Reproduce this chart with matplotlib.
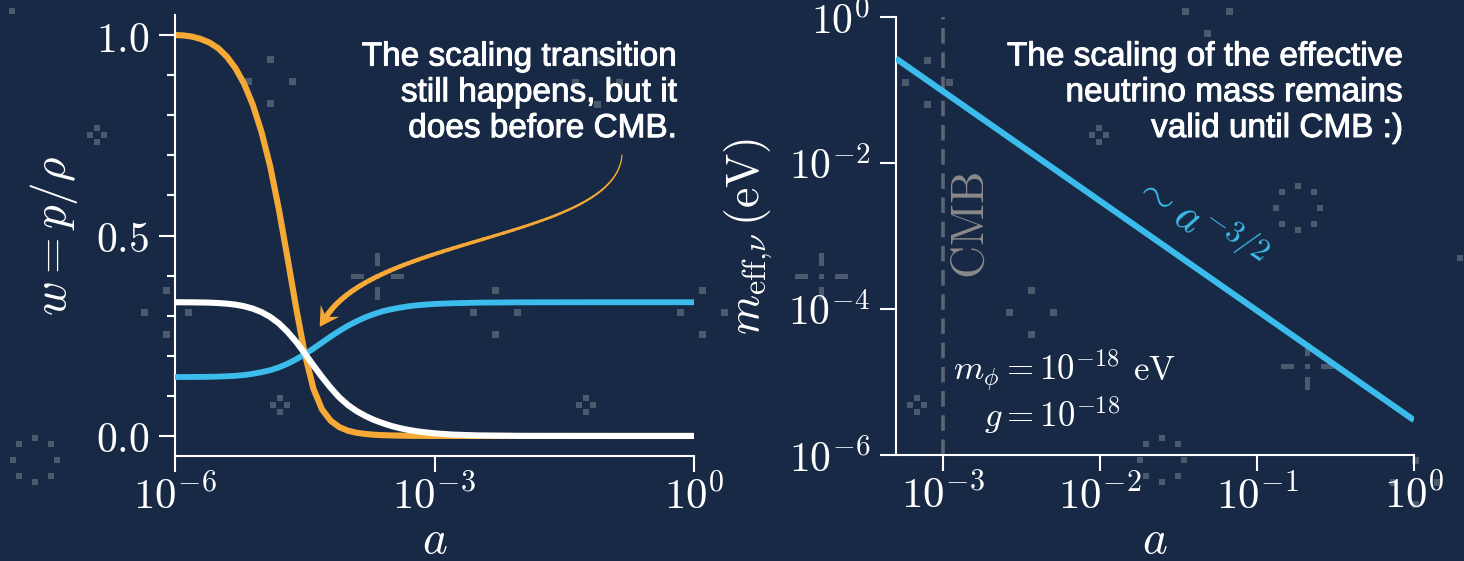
import numpy as np
import matplotlib
matplotlib.use('Agg')
import matplotlib.pyplot as plt
import matplotlib.patheffects as pe
import matplotlib.transforms as mtransforms
from matplotlib.collections import LineCollection
from matplotlib.patches import Polygon, Rectangle
from matplotlib.ticker import FixedLocator, FuncFormatter, MultipleLocator, NullLocator

plt.rcParams['mathtext.fontset'] = 'cm'

W_PX, H_PX, DPI = 1464, 561, 100

BG     = '#172945'
ORANGE = '#f7a936'
BLUE   = '#3cbcec'
WHITE  = '#ffffff'
DOTS   = '#4c5a6e'
GREY   = '#8a8a8a'
DASH   = '#5d6574'

# ── equation of state w = p/rho, sampled on log10(a) ─────────────────
log_a = [-6.0, -5.9, -5.8, -5.7, -5.6, -5.5, -5.4, -5.3, -5.2, -5.1,
         -5.0, -4.9, -4.8, -4.7, -4.6, -4.5, -4.4, -4.3, -4.2, -4.1,
         -4.0, -3.9, -3.8, -3.7, -3.6, -3.5, -3.4, -3.3, -3.2, -3.1,
         -3.0, -2.8, -2.5, -2.0, -1.0, 0.0]
w_scalar = [1.000, 0.999, 0.996, 0.990, 0.981, 0.967, 0.946, 0.917, 0.878, 0.826,
            0.758, 0.673, 0.566, 0.445, 0.320, 0.205, 0.118, 0.066, 0.038, 0.022,
            0.013, 0.008, 0.005, 0.003, 0.002, 0.0013, 0.0008, 0.0005, 0.0003, 0.0002,
            0.0001, 0.0, 0.0, 0.0, 0.0, 0.0]
w_nu     = [0.3335, 0.3334, 0.3333, 0.3330, 0.3325, 0.3315, 0.3300, 0.3275, 0.3235, 0.3175,
            0.3090, 0.2970, 0.2810, 0.2600, 0.2350, 0.2060, 0.1760, 0.1470, 0.1200, 0.0960,
            0.0770, 0.0620, 0.0500, 0.0400, 0.0320, 0.0250, 0.0195, 0.0150, 0.0115, 0.0088,
            0.0065, 0.0035, 0.0013, 0.0002, 0.0, 0.0]
w_mix    = [0.1470, 0.1470, 0.1471, 0.1473, 0.1476, 0.1481, 0.1489, 0.1500, 0.1520, 0.1550,
            0.1590, 0.1640, 0.1710, 0.1800, 0.1910, 0.2040, 0.2180, 0.2330, 0.2480, 0.2620,
            0.2750, 0.2860, 0.2960, 0.3040, 0.3110, 0.3160, 0.3200, 0.3235, 0.3260, 0.3278,
            0.3292, 0.3310, 0.3325, 0.3333, 0.3335, 0.3335]

# ── effective neutrino mass ──────────────────────────────────────────
a_mass = [5.0e-4, 1.0]
m_eff  = [0.27, 3.0e-6]
A_CMB  = 1e-3

left_xticks  = [1e-6, 1e-3, 1e0]
left_yticks  = [0.0, 0.5, 1.0]
right_xticks = [1e-3, 1e-2, 1e-1, 1e0]
right_yticks = [1e-6, 1e-4, 1e-2, 1e0]

note_left  = 'The scaling transition\nstill happens, but it\ndoes before CMB.'
note_right = 'The scaling of the effective\nneutrino mass remains\nvalid until CMB :)'

# background pixel-star decoration: (kind, x, y) in image pixels
MOTIFS = [
    ('dot', 12, 11), ('dot', 1460, 258),
    ('sparse', 270, 81), ('sparse', 166, 312), ('sparse', 495, 312),
    ('sparse', 597, 82), ('sparse', 702, 312), ('sparse', 927, 82),
    ('sparse', 1031, 312), ('sparse', 1207, 11), ('sparse', 1415, 482),
    ('tight', 97, 135), ('tight', 280, 405), ('tight', 586, 405),
    ('tight', 917, 405), ('tight', 1099, 135),
    ('plus', 377, 276), ('plus', 821, 276), ('plus', 1307, 366),
    ('ring', 35, 460), ('ring', 1298, 208), ('ring', 1162, 460),
]


def pow10(v, _):
    return r'$10^{%d}$' % int(round(np.log10(v)))


def lin1(v, _):
    return r'$%.1f$' % v


fig = plt.figure(figsize=(W_PX / DPI, H_PX / DPI), dpi=DPI, facecolor=BG)
px = mtransforms.Affine2D().scale(1, -1).translate(0, H_PX)


def square(cx, cy, w, h=None):
    h = w if h is None else h
    fig.add_artist(Rectangle((cx - w / 2, cy - h / 2), w, h, transform=px,
                             color=DOTS, lw=0, zorder=-5))


for kind, cx, cy in MOTIFS:
    if kind == 'dot':
        square(cx, cy, 6)
    elif kind == 'tight':
        for dx, dy in [(0, -7), (-7, 0), (7, 0), (0, 7)]:
            square(cx + dx, cy + dy, 6)
    elif kind == 'sparse':
        for dx, dy in [(0, -22), (-22, 0), (22, 0), (0, 22)]:
            square(cx + dx, cy + dy, 7)
    elif kind == 'plus':
        square(cx, cy, 5)
        square(cx, cy - 17, 5, 13)
        square(cx, cy + 17, 5, 13)
        square(cx - 20, cy, 13, 5)
        square(cx + 20, cy, 13, 5)
    elif kind == 'ring':
        for k in range(8):
            t = k * np.pi / 4
            square(cx + 22 * np.cos(t), cy + 22 * np.sin(t), 6)

ax1 = fig.add_axes([175 / W_PX, 1 - 456 / H_PX, 519 / W_PX, 441 / H_PX])
ax2 = fig.add_axes([896 / W_PX, 1 - 455 / H_PX, 518 / W_PX, 438 / H_PX])

# slightly heavier sans for the notes
note_kw = dict(ha='right', va='baseline', multialignment='right', color=WHITE,
               fontsize=24, family='Liberation Sans',
               path_effects=[pe.withStroke(linewidth=0.7, foreground=WHITE)])


def style(ax):
    ax.set_facecolor('none')
    for s in ('top', 'right'):
        ax.spines[s].set_visible(False)
    for s in ('left', 'bottom'):
        ax.spines[s].set_color(WHITE)
        ax.spines[s].set_linewidth(1.5)
    ax.tick_params(which='both', direction='out', color=WHITE,
                   labelcolor=WHITE, width=1.5)
    ax.tick_params(which='major', length=11.5)
    ax.tick_params(which='minor', length=5.5)
    ax.tick_params(axis='x', labelsize=31, pad=3)
    ax.tick_params(axis='y', labelsize=30, pad=7)


def bottom_label(ax, y):
    ax.set_xlabel(r'$a$', fontsize=34, color=WHITE)
    ax.xaxis.label.set_verticalalignment('baseline')
    ax.xaxis.set_label_coords(0.5, y)


# ── left: w(a) ───────────────────────────────────────────────────────
a_grid = 10.0 ** np.array(log_a)
style(ax1)
ax1.set_xscale('log')
ax1.plot(a_grid, w_scalar, color=ORANGE, lw=4.4, solid_capstyle='butt', zorder=2)
ax1.plot(a_grid, w_mix, color=BLUE, lw=4.2, solid_capstyle='butt', zorder=3)
ax1.plot(a_grid, w_nu, color=WHITE, lw=4.4, solid_capstyle='butt', zorder=4)
ax1.set_xlim(1e-6, 1e0)
ax1.set_ylim(-0.05, 1.05)
ax1.xaxis.set_major_locator(FixedLocator(left_xticks))
ax1.xaxis.set_minor_locator(NullLocator())
ax1.xaxis.set_major_formatter(FuncFormatter(pow10))
ax1.yaxis.set_major_locator(FixedLocator(left_yticks))
ax1.yaxis.set_minor_locator(MultipleLocator(0.1))
ax1.yaxis.set_major_formatter(FuncFormatter(lin1))
ax1.set_ylabel(r'$w = p/\rho$', fontsize=34, color=WHITE)
ax1.yaxis.set_label_coords(-0.183, 0.5)
bottom_label(ax1, -0.220)
# multi-line notes are pinned at the baseline of their last line
ax1.text(0.967, 0.723, note_left, transform=ax1.transAxes, **note_kw)

# ── right: m_eff(a) ──────────────────────────────────────────────────
style(ax2)
ax2.set_xscale('log')
ax2.set_yscale('log')
ax2.set_xlim(5e-4, 1e0)
ax2.set_ylim(1e-6, 1e0)
ax2.axvline(A_CMB, color=DASH, lw=2.6, dashes=(4.3, 2.4), zorder=1)
ax2.plot(a_mass, m_eff, color=BLUE, lw=4.4, solid_capstyle='butt', zorder=3)
ax2.xaxis.set_major_locator(FixedLocator(right_xticks))
ax2.xaxis.set_minor_locator(NullLocator())
ax2.xaxis.set_major_formatter(FuncFormatter(pow10))
ax2.yaxis.set_major_locator(FixedLocator(right_yticks))
ax2.yaxis.set_minor_locator(NullLocator())
ax2.yaxis.set_major_formatter(FuncFormatter(pow10))
ax2.set_ylabel(r'$m_{\mathrm{eff},\!\nu}\,(\mathrm{eV})$', fontsize=33, color=WHITE)
ax2.yaxis.set_label_coords(-0.234, 0.5)
bottom_label(ax2, -0.223)
ax2.text(0.979, 0.726, note_right, transform=ax2.transAxes, **note_kw)
ax2.text(0.145, 0.523, r'$\mathrm{CMB}$', transform=ax2.transAxes, rotation=90,
         ha='center', va='center', color=GREY, fontsize=33)
ax2.text(0.432, 0.171, r'$m_\phi = 10^{-18}$', transform=ax2.transAxes,
         ha='right', va='baseline', color=WHITE, fontsize=25)
ax2.text(0.458, 0.171, r'$\mathrm{eV}$', transform=ax2.transAxes,
         ha='left', va='baseline', color=WHITE, fontsize=25)
ax2.text(0.432, 0.064, r'$g = 10^{-18}$', transform=ax2.transAxes,
         ha='right', va='baseline', color=WHITE, fontsize=25)

# slope label follows the drawn line's on-screen angle
p0 = ax2.transData.transform((a_mass[0], m_eff[0]))
p1 = ax2.transData.transform((a_mass[-1], m_eff[-1]))
angle = np.degrees(np.arctan2(p1[1] - p0[1], p1[0] - p0[0]))
ax2.text(0.042, 1.5e-3, r'$\sim a^{-3/2}$', rotation=angle, rotation_mode='anchor',
         ha='center', va='center', color=BLUE, fontsize=32)

# ── curved, tapered arrow from the note to the transition ────────────
P = np.array([[622, 155], [616, 238], [378, 236], [326, 317]], float)
t = np.linspace(0, 1, 80)[:, None]
curve = ((1 - t) ** 3 * P[0] + 3 * (1 - t) ** 2 * t * P[1]
         + 3 * (1 - t) * t ** 2 * P[2] + t ** 3 * P[3])
segs = np.stack([curve[:-1], curve[1:]], axis=1)
body = LineCollection(segs, linewidths=np.linspace(0.8, 4.0, len(segs)),
                      colors=ORANGE, capstyle='round', transform=px, zorder=6)
fig.add_artist(body)

d = P[3] - P[2]
d /= np.hypot(*d)
n = np.array([-d[1], d[0]])
tip = P[3] + 11.7 * d
L, Wd = 19.0, 11.0
head = [tip, tip - L * d + Wd * n, tip - 0.62 * L * d, tip - L * d - Wd * n]
fig.add_artist(Polygon(head, closed=True, color=ORANGE, lw=0, transform=px, zorder=6))

fig.savefig('out.png', dpi=DPI, facecolor=fig.get_facecolor())
